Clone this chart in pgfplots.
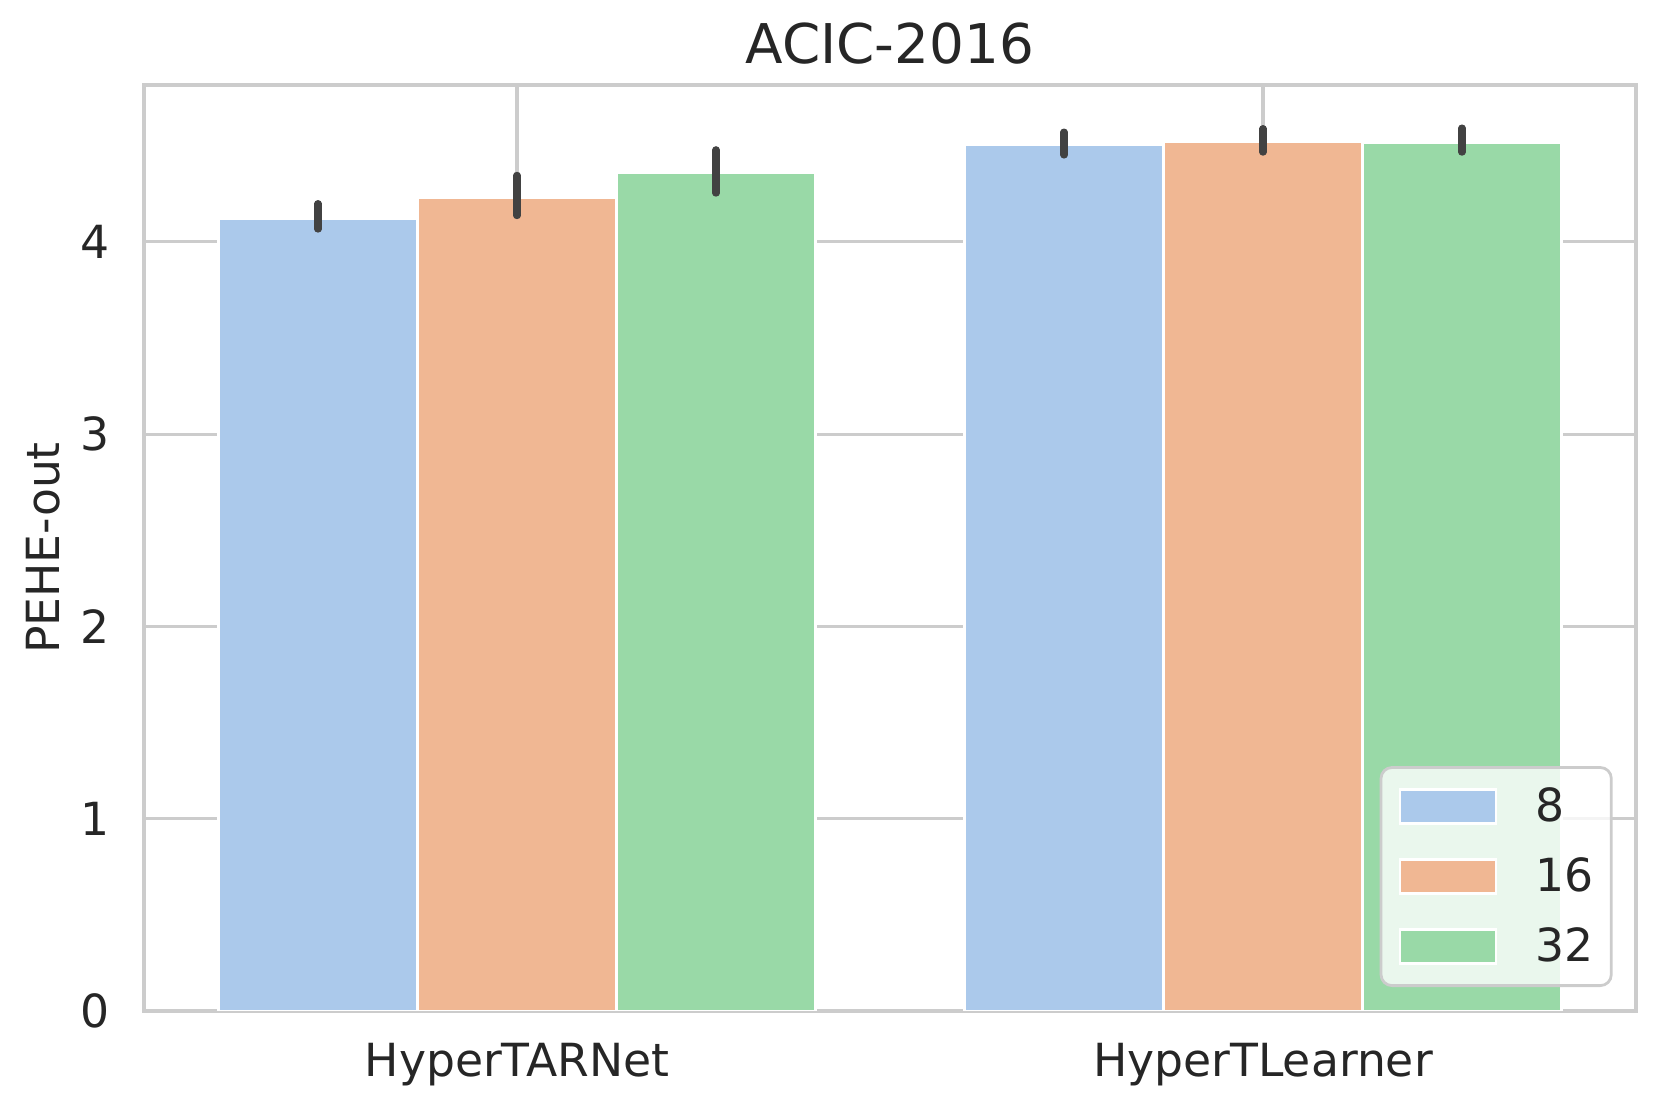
\documentclass[border=0pt]{standalone}
\usepackage{fontspec}
\setmainfont{DejaVu Sans}
\usepackage{pgfplots}
\pgfplotsset{compat=1.18}
\definecolor{cblue}{HTML}{ABC9EB}
\definecolor{corange}{HTML}{F0B793}
\definecolor{cgreen}{HTML}{99D9A7}
\definecolor{gridgray}{HTML}{CCCCCC}
\definecolor{errgray}{HTML}{424242}
\definecolor{txt}{HTML}{262626}
\begin{document}
\begin{tikzpicture}
\useasboundingbox (-0.72in,-0.505in) rectangle (7.58in,5.055in);
\begin{axis}[
  at={(0,0)}, anchor=south west,
  scale only axis, width=7.46in, height=4.63in,
  xmin=-0.5, xmax=1.5, ymin=0, ymax=4.815,
  ybar, bar width=0.2667,
  xtick={0,1}, xticklabels={HyperTARNet,HyperTLearner},
  ytick={0,1,2,3,4},
  major tick length=0pt,
  xmajorgrids, ymajorgrids,
  grid style={gridgray, line width=1.1pt},
  axis line style={gridgray, line width=1.25pt},
  /pgf/number format/assume math mode=true,
  tick label style={font=\fontsize{16.5}{19}\selectfont, text=txt},
  xticklabel style={anchor=base, yshift=-0.3285in, inner sep=0pt},
  yticklabel style={anchor=east, xshift=-0.17in, inner sep=0pt},
  ylabel={PEHE-out},
  ylabel style={at={(axis description cs:-0.0677,0.5)}, anchor=center, font=\fontsize{16.5}{19}\selectfont, text=txt, inner sep=0pt},
  title={ACIC-2016},
  title style={at={(axis description cs:0.5,1)}, anchor=base, yshift=0.025in, font=\fontsize{19.8}{23}\selectfont, text=txt, inner sep=0pt},
  legend style={at={(axis description cs:1,0)}, anchor=south east, xshift=-0.1165in, yshift=0.12in,
    fill=white, fill opacity=0.8, text opacity=1, draw opacity=1, draw=gridgray, line width=1pt,
    rounded corners=4pt, font=\fontsize{16.5}{19}\selectfont, text=txt,
    inner xsep=0.09in, inner ysep=0.1in, row sep=0.16in, column sep=0.19in,
    nodes={inner sep=0pt}},
  legend cell align=left,
  legend image code/.code={\draw[#1, draw=white, line width=0.8pt, sharp corners, fill opacity=1, draw opacity=1] (0in,-0.085in) rectangle (0.48in,0.085in);},
  error bars/y dir=both, error bars/y explicit,
  error bars/error mark=none,
  error bars/error bar style={line width=2.6pt, color=errgray, line cap=round},
]
\addplot[fill=cblue, draw=white, line width=0.8pt, bar shift=-0.2667] coordinates {
  (0,4.118) += (0,0.080) -= (0,0.052)
  (1,4.501) += (0,0.069) -= (0,0.050)
};
\addlegendentry{8}
\addplot[fill=corange, draw=white, line width=0.8pt, bar shift=0] coordinates {
  (0,4.227) += (0,0.118) -= (0,0.091)
  (1,4.518) += (0,0.070) -= (0,0.052)
};
\addlegendentry{16}
\addplot[fill=cgreen, draw=white, line width=0.8pt, bar shift=0.2667] coordinates {
  (0,4.356) += (0,0.122) -= (0,0.103)
  (1,4.513) += (0,0.078) -= (0,0.047)
};
\addlegendentry{32}
\end{axis}
\end{tikzpicture}
\end{document}
